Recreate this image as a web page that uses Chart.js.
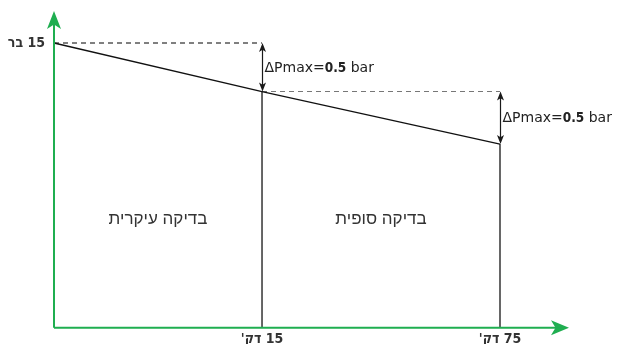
<!DOCTYPE html>
<html>
<head>
<meta charset="utf-8">
<script src="https://cdn.jsdelivr.net/npm/chart.js@4/dist/chart.umd.min.js"></script>
<style>
html,body{margin:0;padding:0;background:#ffffff;}
#c{display:block;}
</style>
</head>
<body>
<canvas id="c" width="619" height="344"></canvas>
<script>
// ---- data ----
const timeMin = [0, 15, 75];
const pressureBar = [15, 14.52, 14.0];
const xTickValues = [15, 75];
const xTickLabels = ["15 דק'", "75 דק'"];
const yTickValues = [15];
const yTickLabels = ["15 בר"];
const stageNames = ["בדיקה עיקרית", "בדיקה סופית"];
const dropLabelParts = ["ΔPmax=", "0.5", " bar"];
const yAxisRange = [12.18, 15];

// ---- schematic (piecewise) time scale ----
class SchematicTimeScale extends Chart.LinearScale {
  _toDec(v) {
    const bv = Array.from(this.options.breakValues);
    const bf = Array.from(this.options.breakFractions);
    for (let i = 0; i < bv.length - 1; i++) {
      if (v <= bv[i + 1] || i === bv.length - 2) {
        return bf[i] + (v - bv[i]) / (bv[i + 1] - bv[i]) * (bf[i + 1] - bf[i]);
      }
    }
    return 0;
  }
  _fromDec(d) {
    const bv = Array.from(this.options.breakValues);
    const bf = Array.from(this.options.breakFractions);
    for (let i = 0; i < bf.length - 1; i++) {
      if (d <= bf[i + 1] || i === bf.length - 2) {
        return bv[i] + (d - bf[i]) / (bf[i + 1] - bf[i]) * (bv[i + 1] - bv[i]);
      }
    }
    return 0;
  }
  getPixelForValue(value) {
    if (value === null || value === undefined || isNaN(value)) return NaN;
    return this.getPixelForDecimal(this._toDec(value));
  }
  getValueForPixel(pixel) {
    return this._fromDec(this.getDecimalForPixel(pixel));
  }
}
SchematicTimeScale.id = 'schematicTime';
SchematicTimeScale.defaults = Chart.LinearScale.defaults;
Chart.register(SchematicTimeScale);

const RLM = '\u200F';
const GREEN = '#1fae50';
const TICK_FONT = { family: "'DejaVu Sans Condensed', 'DejaVu Sans', sans-serif", weight: 'bold', size: 14 };

function arrowHead(ctx, tx, ty, dx, dy, len, half) {
  const bx = tx - dx * len, by = ty - dy * len;
  const px = -dy, py = dx;
  ctx.beginPath();
  ctx.moveTo(tx, ty);
  ctx.lineTo(bx + px * half, by + py * half);
  ctx.lineTo(tx - dx * len * 0.75, ty - dy * len * 0.75);
  ctx.lineTo(bx - px * half, by - py * half);
  ctx.closePath();
  ctx.fill();
}

const overlay = {
  id: 'overlay',
  afterDraw(chart) {
    const ctx = chart.ctx;
    const xs = chart.scales.x, ys = chart.scales.y;
    const ca = chart.chartArea;
    ctx.save();
    // green axes
    const ax = ca.left, ay = ca.bottom - 0.3;
    const xTip = chart.width - 50, yTip = 11;
    ctx.strokeStyle = GREEN; ctx.fillStyle = GREEN; ctx.lineWidth = 2;
    ctx.beginPath();
    ctx.moveTo(ax, ay); ctx.lineTo(xTip - 10, ay);
    ctx.moveTo(ax, ay); ctx.lineTo(ax, yTip + 10);
    ctx.stroke();
    arrowHead(ctx, xTip, ay, 1, 0, 18, 7.5);
    arrowHead(ctx, ax, yTip, 0, -1, 18, 7);

    // double arrows for pressure drops
    ctx.strokeStyle = '#1a1a1a'; ctx.lineWidth = 1.2;
    const drops = [
      [timeMin[1], pressureBar[0], pressureBar[1]],
      [timeMin[2], pressureBar[1], pressureBar[2]]
    ];
    drops.forEach(d => {
      const x = Math.round(xs.getPixelForValue(d[0])) + 0.5;
      const y1 = ys.getPixelForValue(d[1]);
      const y2 = ys.getPixelForValue(d[2]);
      ctx.fillStyle = '#1a1a1a';
      ctx.beginPath(); ctx.moveTo(x, y1 + 4); ctx.lineTo(x, y2 - 4); ctx.stroke();
      arrowHead(ctx, x, y1, 0, -1, 9, 3.5);
      arrowHead(ctx, x, y2, 0, 1, 9, 3.5);
      const ly = (y1 + y2) / 2 + 1;
      let lx = x + 2;
      ctx.direction = 'ltr';
      ctx.textAlign = 'left'; ctx.textBaseline = 'middle';
      ctx.fillStyle = '#222';
      const fonts = ['14px "DejaVu Sans"', 'bold 13.5px "DejaVu Sans Condensed"', '14px "DejaVu Sans"'];
      dropLabelParts.forEach((p, i) => {
        ctx.font = fonts[i];
        ctx.fillText(p, lx, ly);
        lx += ctx.measureText(p).width;
      });
    });

    // stage names
    ctx.font = '17px "Liberation Sans"';
    ctx.fillStyle = '#333';
    ctx.textAlign = 'center'; ctx.textBaseline = 'middle';
    const ty = ca.top + (ca.bottom - ca.top) * 0.62;
    for (let i = 0; i < stageNames.length; i++) {
      const cx = (xs.getPixelForValue(timeMin[i]) + xs.getPixelForValue(timeMin[i + 1])) / 2;
      ctx.fillText(stageNames[i], cx, ty);
    }
    ctx.restore();
  }
};

const lineStyle = { pointRadius: 0, tension: 0, clip: false, fill: false };

new Chart(document.getElementById('c'), {
  type: 'line',
  data: {
    datasets: [
      Object.assign({
        data: timeMin.map((t, i) => ({ x: t, y: pressureBar[i] })),
        borderColor: '#111', borderWidth: 1.3
      }, lineStyle),
      Object.assign({
        data: [{ x: timeMin[0], y: pressureBar[0] }, { x: timeMin[1], y: pressureBar[0] }],
        borderColor: '#000', borderWidth: 1, borderDash: [5, 4]
      }, lineStyle),
      Object.assign({
        data: [{ x: timeMin[1], y: pressureBar[1] }, { x: timeMin[2], y: pressureBar[1] }],
        borderColor: '#777', borderWidth: 1, borderDash: [5, 4]
      }, lineStyle),
      Object.assign({
        data: [{ x: timeMin[1], y: yAxisRange[0] }, { x: timeMin[1], y: pressureBar[1] }],
        borderColor: '#000', borderWidth: 1.2
      }, lineStyle),
      Object.assign({
        data: [{ x: timeMin[2], y: yAxisRange[0] }, { x: timeMin[2], y: pressureBar[2] }],
        borderColor: '#000', borderWidth: 1.2
      }, lineStyle)
    ]
  },
  options: {
    responsive: false,
    animation: false,
    devicePixelRatio: 1,
    layout: { padding: { left: 0, right: 119, top: 43, bottom: 0 } },
    plugins: { legend: { display: false }, tooltip: { enabled: false } },
    scales: {
      x: {
        type: 'schematicTime',
        min: timeMin[0], max: timeMin[2],
        breakValues: [0, 15, 75],
        breakFractions: [0, 0.4664, 1],
        grid: { display: false }, border: { display: false },
        afterBuildTicks: s => { s.ticks = xTickValues.map(v => ({ value: v })); },
        afterFit: s => { s.height = 16; },
        ticks: {
          autoSkip: false, maxRotation: 0, padding: -5,
          color: '#333',
          font: TICK_FONT,
          callback: v => RLM + xTickLabels[xTickValues.indexOf(v)] + RLM
        }
      },
      y: {
        type: 'linear',
        min: yAxisRange[0], max: yAxisRange[1],
        grid: { display: false }, border: { display: false },
        afterBuildTicks: s => { s.ticks = yTickValues.map(v => ({ value: v })); },
        afterFit: s => { s.width = 54; },
        ticks: {
          padding: 1, color: '#333',
          font: TICK_FONT,
          callback: v => RLM + yTickLabels[yTickValues.indexOf(v)] + RLM
        }
      }
    }
  },
  plugins: [overlay]
});
</script>
</body>
</html>
